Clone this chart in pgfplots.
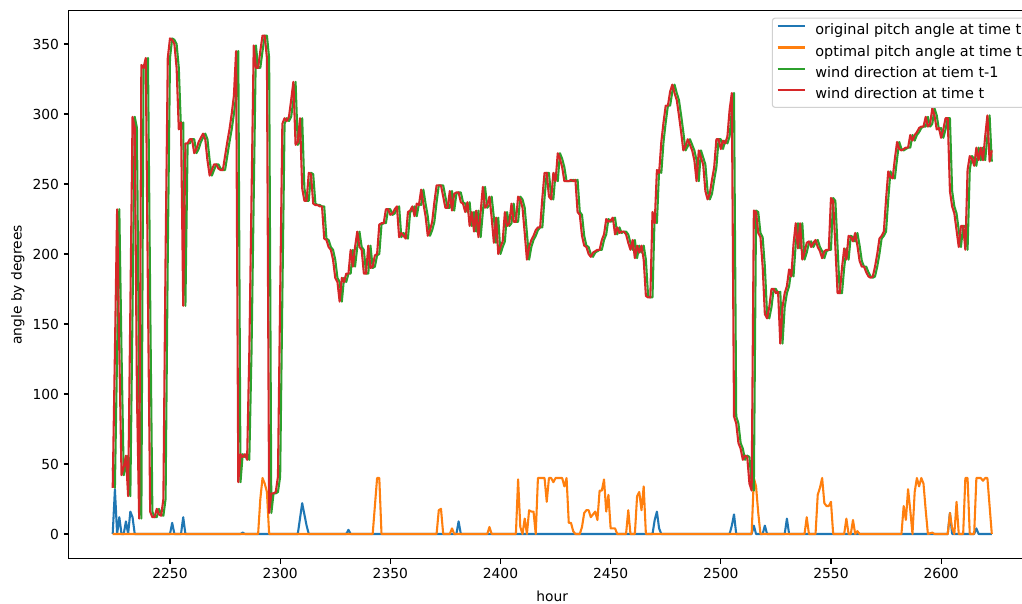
\documentclass[border=0pt]{standalone}
\usepackage{fontspec}
\setmainfont{DejaVu Sans}
\usepackage{pgfplots}
\usepackage{pgfplotstable}
\pgfplotsset{compat=1.18}
\definecolor{c0}{HTML}{1F77B4}
\definecolor{c1}{HTML}{FF7F0E}
\definecolor{c2}{HTML}{2CA02C}
\definecolor{c3}{HTML}{D62728}

\pgfplotstableread{
h w
2223 47
2224 33
2225 130
2226 232
2227 130
2228 42
2229 48
2230 56
2231 27
2232 160
2233 298
2234 290
2235 100
2236 11
2237 335
2238 333
2239 340
2240 170
2241 16
2242 12
2243 12
2244 18
2245 14
2246 13
2247 25
2248 200
2249 340
2250 354
2251 353
2252 350
2253 333
2254 289
2255 294
2256 163
2257 279
2258 279
2259 282
2260 282
2261 272
2262 275
2263 280
2264 283
2265 286
2266 282
2267 267
2268 256
2269 260
2270 264
2271 264
2272 261
2273 260
2274 260
2275 270
2276 280
2277 289
2278 300
2279 313
2280 345
2281 37
2282 57
2283 55
2284 57
2285 53
2286 130
2287 240
2288 349
2289 333
2290 333
2291 345
2292 356
2293 356
2294 340
2295 15
2296 29
2297 29
2298 30
2299 41
2300 170
2301 293
2302 297
2303 295
2304 298
2305 310
2306 323
2307 278
2308 280
2309 297
2310 247
2311 238
2312 238
2313 258
2314 257
2315 236
2316 235
2317 235
2318 234
2319 234
2320 211
2321 210
2322 205
2323 203
2324 196
2325 183
2326 180
2327 166
2328 183
2329 180
2330 186
2331 186
2332 203
2333 191
2334 205
2335 216
2336 205
2337 203
2338 186
2339 186
2340 206
2341 190
2342 191
2343 199
2344 200
2345 221
2346 222
2347 222
2348 232
2349 232
2350 228
2351 229
2352 232
2353 234
2354 212
2355 215
2356 213
2357 211
2358 230
2359 231
2360 234
2361 227
2362 236
2363 235
2364 246
2365 236
2366 227
2367 213
2368 217
2369 223
2370 237
2371 249
2372 249
2373 249
2374 241
2375 233
2376 233
2377 245
2378 231
2379 243
2380 244
2381 244
2382 237
2383 236
2384 230
2385 237
2386 220
2387 230
2388 216
2389 231
2390 212
2391 230
2392 248
2393 233
2394 235
2395 241
2396 226
2397 208
2398 226
2399 200
2400 205
2401 209
2402 230
2403 220
2404 222
2405 236
2406 223
2407 223
2408 241
2409 239
2410 233
2411 215
2412 196
2413 205
2414 210
2415 213
2416 217
2417 219
2418 219
2419 240
2420 258
2421 258
2422 241
2423 239
2424 258
2425 252
2426 272
2427 268
2428 262
2429 252
2430 252
2431 252
2432 253
2433 252
2434 253
2435 230
2436 228
2437 213
2438 206
2439 205
2440 200
2441 198
2442 201
2443 202
2444 203
2445 203
2446 210
2447 214
2448 225
2449 223
2450 224
2451 226
2452 214
2453 219
2454 215
2455 216
2456 216
2457 214
2458 208
2459 203
2460 210
2461 197
2462 206
2463 201
2464 206
2465 196
2466 170
2467 169
2468 169
2469 230
2470 222
2471 260
2472 258
2473 280
2474 294
2475 306
2476 306
2477 316
2478 321
2479 315
2480 310
2481 299
2482 287
2483 274
2484 277
2485 282
2486 278
2487 274
2488 267
2489 252
2490 274
2491 269
2492 264
2493 245
2494 239
2495 243
2496 253
2497 262
2498 282
2499 282
2500 275
2501 281
2502 279
2503 284
2504 303
2505 315
2506 84
2507 79
2508 65
2509 61
2510 53
2511 56
2512 55
2513 36
2514 31
2515 231
2516 230
2517 215
2518 212
2519 191
2520 157
2521 154
2522 162
2523 175
2524 175
2525 172
2526 173
2527 136
2528 162
2529 172
2530 177
2531 189
2532 184
2533 207
2534 222
2535 204
2536 222
2537 196
2538 201
2539 208
2540 209
2541 205
2542 208
2543 210
2544 205
2545 202
2546 197
2547 202
2548 203
2549 203
2550 240
2551 238
2552 205
2553 172
2554 172
2555 190
2556 204
2557 196
2558 213
2559 212
2560 209
2561 215
2562 206
2563 195
2564 191
2565 191
2566 187
2567 184
2568 183
2569 184
2570 191
2571 200
2572 211
2573 213
2574 216
2575 239
2576 259
2577 255
2578 254
2579 268
2580 280
2581 275
2582 274
2583 275
2584 276
2585 276
2586 285
2587 281
2588 285
2589 287
2590 290
2591 291
2592 291
2593 298
2594 291
2595 293
2596 304
2597 299
2598 289
2599 290
2600 283
2601 289
2602 297
2603 297
2604 245
2605 234
2606 229
2607 217
2608 205
2609 220
2610 220
2611 203
2612 260
2613 270
2614 268
2615 263
2616 276
2617 267
2618 276
2619 267
2620 284
2621 299
2622 266
2623 274
}\wind

\pgfplotstableread{
h v
2224 0
2225 32
2226 0
2227 12
2228 0
2229 0
2230 9
2231 0
2232 16
2233 12
2234 0
2250 0
2251 8
2252 0
2255 0
2256 12
2257 0
2282 0
2283 1
2284 0
2308 0
2309 11
2310 22
2311 14
2312 6
2313 0
2330 0
2331 3
2332 0
2380 0
2381 9
2382 0
2469 0
2470 10
2471 16
2472 4
2473 0
2504 0
2505 6
2506 14
2507 0
2514 0
2515 6
2516 0
2519 0
2520 6
2521 0
2529 0
2530 11
2531 0
2603 0
2604 15
2605 0
2615 0
2616 4
2617 0
2623 0
}\orig

\pgfplotstableread{
h v
2224 0
2290 0
2291 25
2292 40
2293 36
2294 30
2295 0
2342 0
2343 20
2344 40
2345 40
2346 0
2371 0
2372 17
2373 18
2374 0
2377 0
2378 4
2379 0
2394 0
2395 5
2396 0
2407 0
2408 39
2409 5
2410 0
2411 11
2412 0
2413 17
2414 16
2415 16
2416 0
2417 40
2418 40
2419 40
2420 40
2421 23
2422 40
2423 40
2424 37
2425 40
2426 40
2427 40
2428 40
2429 34
2430 40
2431 8
2432 8
2433 2
2434 0
2436 0
2437 5
2438 15
2439 17
2440 17
2441 12
2442 14
2443 16
2444 10
2445 31
2446 31
2447 39
2448 16
2449 28
2450 4
2451 4
2452 4
2453 0
2457 0
2458 17
2459 0
2461 0
2462 27
2463 30
2464 17
2465 34
2466 0
2514 0
2515 40
2516 34
2517 15
2518 0
2538 0
2539 12
2540 0
2543 0
2544 28
2545 33
2546 40
2547 22
2548 20
2549 20
2550 23
2551 0
2556 0
2557 11
2558 0
2559 0
2560 10
2561 0
2562 2
2563 0
2582 0
2583 20
2584 10
2585 32
2586 17
2587 0
2588 30
2589 40
2590 34
2591 40
2592 36
2593 17
2594 0
2596 1
2597 0
2603 0
2604 15
2605 4
2606 0
2607 23
2608 0
2610 0
2611 40
2612 40
2613 0
2615 0
2616 40
2617 40
2618 40
2619 38
2620 40
2621 40
2622 20
2623 0
}\optim

\begin{document}
\begin{tikzpicture}
\begin{axis}[
  at={(0,0)}, anchor=south west,
  scale only axis, width=696.2bp, height=394.7bp,
  xmin=2204.05, xmax=2642.95, ymin=-17.8, ymax=373.8,
  xtick={2250,2300,...,2600}, ytick={0,50,...,350},
  xtick pos=left, ytick pos=left,
  tick align=outside, major tick length=3.5bp,
  every tick/.style={black, line width=0.8bp},
  axis line style={line width=0.8bp},
  /pgf/number format/assume math mode=true,
  /pgf/number format/set thousands separator={},
  tick label style={font=\fontsize{10}{12}\selectfont},
  label style={font=\fontsize{10}{12}\selectfont},
  xlabel={hour}, ylabel={angle by degrees},
  every axis x label/.style={at={([yshift=-27.2bp]axis description cs:0.5,0)}, anchor=center},
  every axis y label/.style={at={([xshift=-36.6bp]axis description cs:0,0.5)}, rotate=90, anchor=center},
  every axis plot/.append style={line width=1.5bp, line join=round},
  legend cell align=left,
  legend image code/.code={\draw[#1] (0bp,3.4bp) -- (20bp,3.4bp);},
  legend style={
    at={(rel axis cs:1,1)}, anchor=north east, xshift=-5bp, yshift=-5bp,
    draw={rgb,1:red,0.82;green,0.82;blue,0.82}, line width=0.8bp, rounded corners=2bp,
    fill=white, fill opacity=0.8, draw opacity=1, text opacity=1,
    inner xsep=3bp, inner ysep=2.8bp, row sep=2.2bp, column sep=5bp,
    nodes={inner sep=1.5bp, text height=7.8bp, text depth=2.2bp, font=\fontsize{10.45}{12}\selectfont},
  },
]
\addplot[c0] table[x=h, y=v] {\orig};
\addlegendentry{original pitch angle at time t}
\addplot[c1] table[x=h, y=v] {\optim};
\addlegendentry{optimal pitch angle at time t}
\addplot[c2, restrict x to domain=2223.5:2623.5] table[x expr=\thisrow{h}+1, y=w] {\wind};
\addlegendentry{wind direction at tiem t-1}
\addplot[c3, restrict x to domain=2223.5:2623.5] table[x=h, y=w] {\wind};
\addlegendentry{wind direction at time t}
\end{axis}
\pgfresetboundingbox
\useasboundingbox (-49.5bp,-31.8bp) rectangle (686.3bp,402.4bp);
\end{tikzpicture}
\end{document}
